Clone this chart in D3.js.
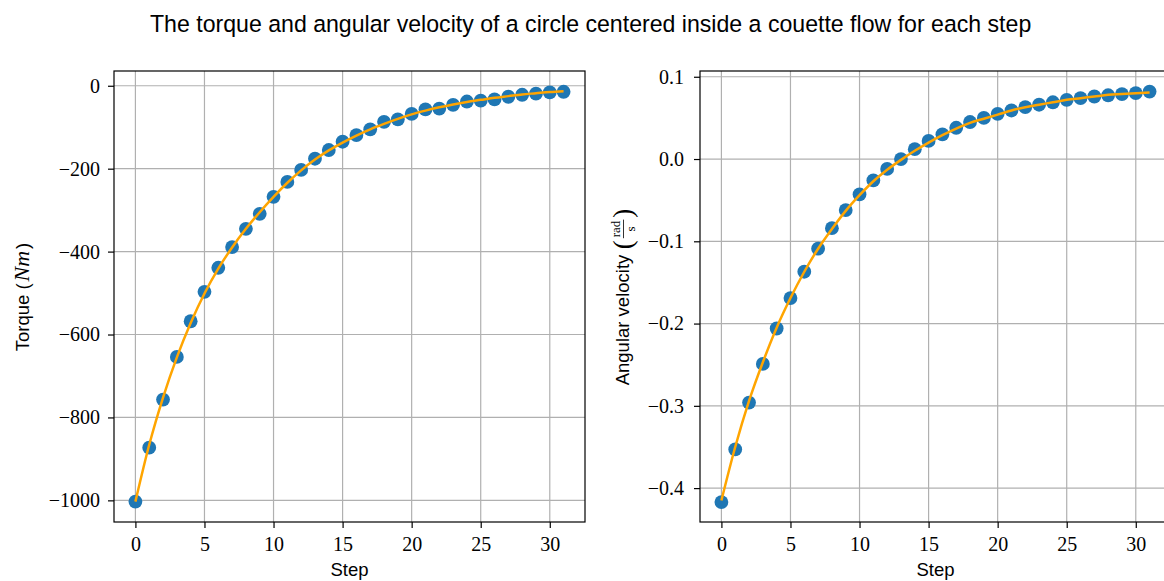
<html>
<head>
  <meta charset="utf-8">
  <script src="https://d3js.org/d3.v7.min.js"></script>
  <style>
    body { margin: 0; background: #fff; }
  </style>
</head>
<body>
<script>
  // values
  var steps = [0,1,2,3,4,5,6,7,8,9,10,11,12,13,14,15,16,17,18,19,20,21,22,23,24,25,26,27,28,29,30,31];
  var torque = [-1003,-873,-757,-654,-568,-497,-439,-389,-345,-309,-268,-232,-203,-176,-155,-135,
                -119,-105,-87,-81,-68,-57,-55,-46,-38,-36,-33,-26.5,-21.7,-19,-16,-14.5];
  var torqueFit = [-1003,-866,-752,-655,-572,-501,-441,-390,-345,-305,-268,-234,-204,-178,-156,-137,
                   -120,-105,-92,-80,-69,-60,-52,-45,-39,-34,-29,-25,-21,-18,-15,-13];
  var omega = [-0.417,-0.353,-0.296,-0.249,-0.206,-0.169,-0.137,-0.109,-0.084,-0.062,-0.043,-0.026,
               -0.012,0.000,0.012,0.022,0.030,0.038,0.045,0.050,0.055,0.059,0.063,0.066,0.069,0.072,
               0.074,0.076,0.0775,0.079,0.080,0.082];
  var omegaFit = [-0.415,-0.350,-0.294,-0.247,-0.205,-0.169,-0.137,-0.109,-0.085,-0.063,-0.044,-0.027,
                  -0.013,-0.001,0.010,0.020,0.029,0.037,0.044,0.049,0.054,0.059,0.063,0.066,0.069,0.072,
                  0.074,0.076,0.078,0.079,0.080,0.081];
  var xTicks = [0,5,10,15,20,25,30];
  var torqueTicks = [0,-200,-400,-600,-800,-1000];
  var omegaTicks = [0.1,0.0,-0.1,-0.2,-0.3,-0.4];

  const W = 1164, H = 581;
  const SANS = "'Liberation Sans', Arial, sans-serif";
  const SERIF = "'Liberation Serif', 'DejaVu Serif', serif";
  const LABEL_FS = 18.5;

  var svg = d3.select("body").append("svg")
      .attr("width", W).attr("height", H);

  // shrink/grow a text to a measured width
  function fitWidth(sel, target) {
    let fs = parseFloat(sel.attr("font-size"));
    let w = sel.node().getComputedTextLength();
    sel.attr("font-size", fs * target / w);
  }

  var title = svg.append("text")
      .attr("x", 150).attr("y", 32)
      .attr("font-family", SANS).attr("font-size", 20)
      .attr("fill", "#000")
      .text("The torque and angular velocity of a circle centered inside a couette flow for each step");
  fitWidth(title, 882);

  function panel(left, right, yDomain, yTicks, yFmt, yPad, vals, fit, id) {
    var top = 71, bottom = 522;
    var x = d3.scaleLinear().domain([-1.55, 32.55]).range([left, right]);
    var y = d3.scaleLinear().domain(yDomain).range([bottom, top]);

    var g = svg.append("g");
    g.append("clipPath").attr("id", id)
      .append("rect").attr("x", left).attr("y", top)
      .attr("width", right - left).attr("height", bottom - top);

    // grid
    g.selectAll(".gx").data(xTicks).enter().append("line")
      .attr("x1", d => x(d)).attr("x2", d => x(d))
      .attr("y1", top).attr("y2", bottom)
      .attr("stroke", "#b0b0b0").attr("stroke-width", 1.2);
    g.selectAll(".gy").data(yTicks).enter().append("line")
      .attr("x1", left).attr("x2", right)
      .attr("y1", d => y(d)).attr("y2", d => y(d))
      .attr("stroke", "#b0b0b0").attr("stroke-width", 1.2);

    var plot = g.append("g").attr("clip-path", "url(#" + id + ")");
    plot.selectAll("circle").data(steps).enter().append("circle")
      .attr("cx", d => x(d))
      .attr("cy", (d, i) => y(vals[i]))
      .attr("r", 6.9)
      .attr("fill", "#1f77b4");

    var line = d3.line()
      .x(d => x(d))
      .y((d, i) => y(fit[i]))
      .curve(d3.curveMonotoneX);
    plot.append("path").attr("d", line(steps))
      .attr("fill", "none").attr("stroke", "orange").attr("stroke-width", 2.5);

    // spines
    g.append("rect").attr("x", left).attr("y", top)
      .attr("width", right - left).attr("height", bottom - top)
      .attr("fill", "none").attr("stroke", "#000").attr("stroke-width", 1.2);

    var ax = g.append("g").attr("transform", "translate(0," + bottom + ")")
      .call(d3.axisBottom(x).tickValues(xTicks).tickSize(6).tickPadding(9).tickFormat(d3.format("d")));
    var ay = g.append("g").attr("transform", "translate(" + left + ",0)")
      .call(d3.axisLeft(y).tickValues(yTicks).tickSize(6).tickPadding(yPad).tickFormat(yFmt));
    [ax, ay].forEach(a => {
      a.select(".domain").remove();
      a.selectAll(".tick line").attr("stroke", "#000").attr("stroke-width", 1.2);
      a.selectAll("text").attr("font-family", SERIF).attr("font-size", 20).attr("fill", "#000");
    });

    svg.append("text")
      .attr("x", (left + right) / 2).attr("y", 576)
      .attr("text-anchor", "middle")
      .attr("font-family", SANS).attr("font-size", LABEL_FS).attr("fill", "#000")
      .text("Step");
  }

  panel(114, 585, [-1052.2, 35.6], torqueTicks, d3.format("d"), 8, torque, torqueFit, "clipL");
  panel(700, 1171, [-0.4412, 0.107], omegaTicks, d3.format(".1f"), 10, omega, omegaFit, "clipR");

  // left y label: Torque (Nm)
  var yl = svg.append("g").attr("transform", "translate(29,297) rotate(-90)")
    .append("text").attr("text-anchor", "middle")
    .attr("font-family", SANS).attr("font-size", LABEL_FS).attr("fill", "#000");
  yl.append("tspan").text("Torque (");
  yl.append("tspan").attr("dx", 2).attr("font-family", SERIF).attr("font-style", "italic")
    .attr("font-size", 22).text("Nm");
  yl.append("tspan").attr("dx", 2).text(")");

  // right y label: Angular velocity (rad / s)
  var gr = svg.append("g").attr("transform", "translate(629,297) rotate(-90)");
  var inner = gr.append("g");
  var t1 = inner.append("text").attr("x", 0).attr("y", 0)
    .attr("font-family", SANS).attr("font-size", LABEL_FS).attr("fill", "#000")
    .text("Angular velocity");
  var w1 = t1.node().getComputedTextLength();
  var px = w1 + LABEL_FS * 0.3;
  var lp = inner.append("text").attr("x", px).attr("y", 3)
    .attr("font-family", SERIF).attr("font-size", LABEL_FS * 1.45).attr("fill", "#000").text("(");
  px += lp.node().getComputedTextLength() + 2;
  var num = inner.append("text").attr("y", -9)
    .attr("font-family", SERIF).attr("font-size", 13).attr("fill", "#000")
    .attr("text-anchor", "middle").text("rad");
  var fw = num.node().getComputedTextLength() + 2;
  num.attr("x", px + fw / 2);
  inner.append("text").attr("x", px + fw / 2).attr("y", 6)
    .attr("font-family", SERIF).attr("font-size", 13).attr("fill", "#000")
    .attr("text-anchor", "middle").text("s");
  inner.append("line").attr("x1", px).attr("x2", px + fw)
    .attr("y1", -5.5).attr("y2", -5.5).attr("stroke", "#000").attr("stroke-width", 0.8);
  px += fw + 2;
  var rp = inner.append("text").attr("x", px).attr("y", 3)
    .attr("font-family", SERIF).attr("font-size", LABEL_FS * 1.45).attr("fill", "#000").text(")");
  px += rp.node().getComputedTextLength();
  inner.attr("transform", "translate(" + (-px / 2) + ",0)");
</script>
</body>
</html>
